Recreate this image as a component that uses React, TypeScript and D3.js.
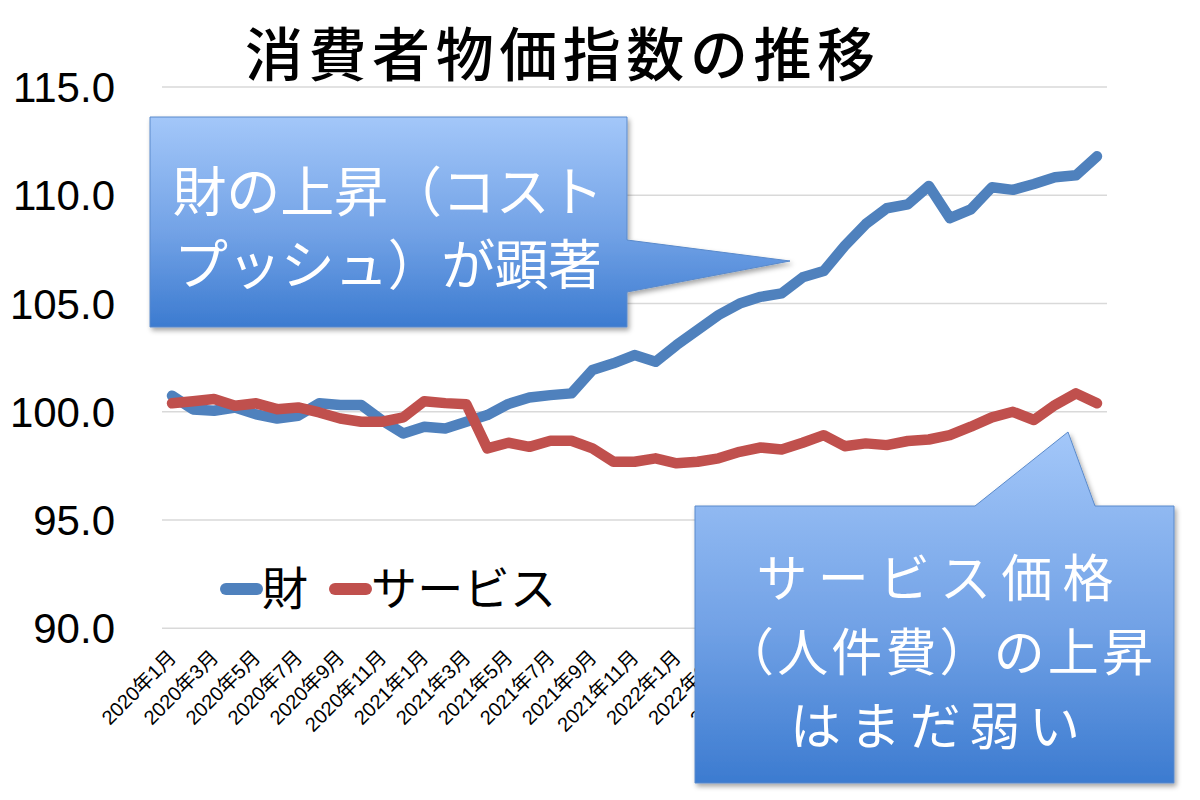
import * as d3 from "d3";

const months: string[] = d3.range(45).map(i => `${2020 + Math.floor(i / 12)}年${(i % 12) + 1}月`);

// 財
const goods = [
  100.74, 100.11, 100.05, 100.2, 99.88, 99.69, 99.82, 100.39, 100.31, 100.31,
  99.6, 99.0, 99.31, 99.23, 99.54, 99.85, 100.36, 100.66, 100.77, 100.85,
  101.93, 102.24, 102.62, 102.31, 103.08, 103.78, 104.47, 105.0, 105.31, 105.47,
  106.21, 106.5, 107.66, 108.67, 109.4, 109.58, 110.43, 108.94, 109.35, 110.37,
  110.25, 110.52, 110.83, 110.92, 111.8,
];

// サービス
const services = [
  100.39, 100.49, 100.59, 100.28, 100.39, 100.12, 100.2, 99.97, 99.69, 99.54,
  99.54, 99.74, 100.49, 100.4, 100.35, 98.31, 98.57, 98.38, 98.66, 98.66,
  98.31, 97.69, 97.69, 97.85, 97.62, 97.69, 97.85, 98.15, 98.35, 98.26,
  98.57, 98.92, 98.41, 98.54, 98.46, 98.65, 98.72, 98.92, 99.31, 99.74,
  100.0, 99.62, 100.31, 100.85, 100.39,
];

const yTicks = [90, 95, 100, 105, 110, 115];

const series = [
  { name: "財", values: goods, color: "#4f81bd" },
  { name: "サービス", values: services, color: "#c0504d" },
];

const JP = "'Noto Sans CJK JP', 'Noto Sans', sans-serif";
const LAT = "'Liberation Sans', Arial, 'Noto Sans CJK JP', sans-serif";

export default function App() {
  const x = d3.scalePoint<string>().domain(months).range([161.5, 1107.5]).padding(0.5);
  const y = d3.scaleLinear().domain([90, 115]).range([628.3, 87]);

  const line = d3
    .line<number>()
    .x((_, i) => x(months[i])!)
    .y(d => y(d));

  return (
    <svg
      width={1200}
      height={800}
      style={{ position: "absolute", left: 0, top: 0, background: "#fff" }}
    >
      <defs>
        <linearGradient id="callout" x1="0" y1="0" x2="0" y2="1">
          <stop offset="0%" stopColor="#a3c7f9" />
          <stop offset="55%" stopColor="#72a2e6" />
          <stop offset="100%" stopColor="#3c7bd0" />
        </linearGradient>
        <filter id="shadow" x="-10%" y="-10%" width="120%" height="130%">
          <feDropShadow dx="2" dy="3" stdDeviation="2.5" floodColor="#000" floodOpacity="0.35" />
        </filter>
      </defs>

      {/* title */}
      <text x={560} y={76} textAnchor="middle" fontFamily={JP} fontSize={58} fontWeight={500} textLength={630} fill="#000">
        消費者物価指数の推移
      </text>

      {/* grid + y labels */}
      {yTicks.map(t => (
        <g key={t}>
          <line x1={162} x2={1107} y1={y(t)} y2={y(t)} stroke="#d9d9d9" strokeWidth={1.5} />
          <text x={115} y={y(t)} dy="0.36em" textAnchor="end" fontFamily={LAT} fontSize={42} fill="#000">
            {t.toFixed(1)}
          </text>
        </g>
      ))}

      {/* x labels */}
      {months.map((m, i) =>
        i % 2 === 0 ? (
          <text
            key={m}
            transform={`translate(${x(m)! - 3},${650}) rotate(-45)`}
            dy="0.6em"
            textAnchor="end"
            fontFamily={LAT}
            fontSize={20}
            fill="#000"
          >
            {m}
          </text>
        ) : null
      )}

      {/* lines */}
      {series.map(s => (
        <path
          key={s.name}
          d={line(s.values) ?? ""}
          fill="none"
          stroke={s.color}
          strokeWidth={10.5}
          strokeLinejoin="round"
          strokeLinecap="round"
        />
      ))}

      {/* legend */}
      <g fontFamily={JP} fontSize={46} fill="#000">
        <line x1={226} x2={257} y1={589} y2={589} stroke={series[0].color} strokeWidth={12} strokeLinecap="round" />
        <text x={262} y={605}>{series[0].name}</text>
        <line x1={335} x2={366} y1={589} y2={589} stroke={series[1].color} strokeWidth={12} strokeLinecap="round" />
        <text x={371} y={605} textLength={185}>{series[1].name}</text>
      </g>

      {/* callout: goods */}
      <path
        d="M150,117 H627 V240 L790,261 L627,292 V327 H150 Z"
        fill="url(#callout)"
        stroke="#5a8acb"
        strokeWidth={1}
        filter="url(#shadow)"
      />
      <text fontFamily={JP} fontSize={54} fill="#fff" textAnchor="middle">
        <tspan x={388} y={212} textLength={431}>財の上昇（コスト</tspan>
        <tspan x={388} y={285} textLength={428}>プッシュ）が顕著</tspan>
      </text>

      {/* callout: services */}
      <path
        d="M695,506 H975 L1068,432 L1095,506 H1174 V783 H695 Z"
        fill="url(#callout)"
        stroke="#5a8acb"
        strokeWidth={1}
        filter="url(#shadow)"
      />
      <text fontFamily={JP} fontSize={51} fill="#fff" textAnchor="middle">
        <tspan x={935} y={597} textLength={357}>サービス価格</tspan>
        <tspan x={938} y={671} textLength={430}>（人件費）の上昇</tspan>
        <tspan x={935} y={745} textLength={290}>はまだ弱い</tspan>
      </text>
    </svg>
  );
}
